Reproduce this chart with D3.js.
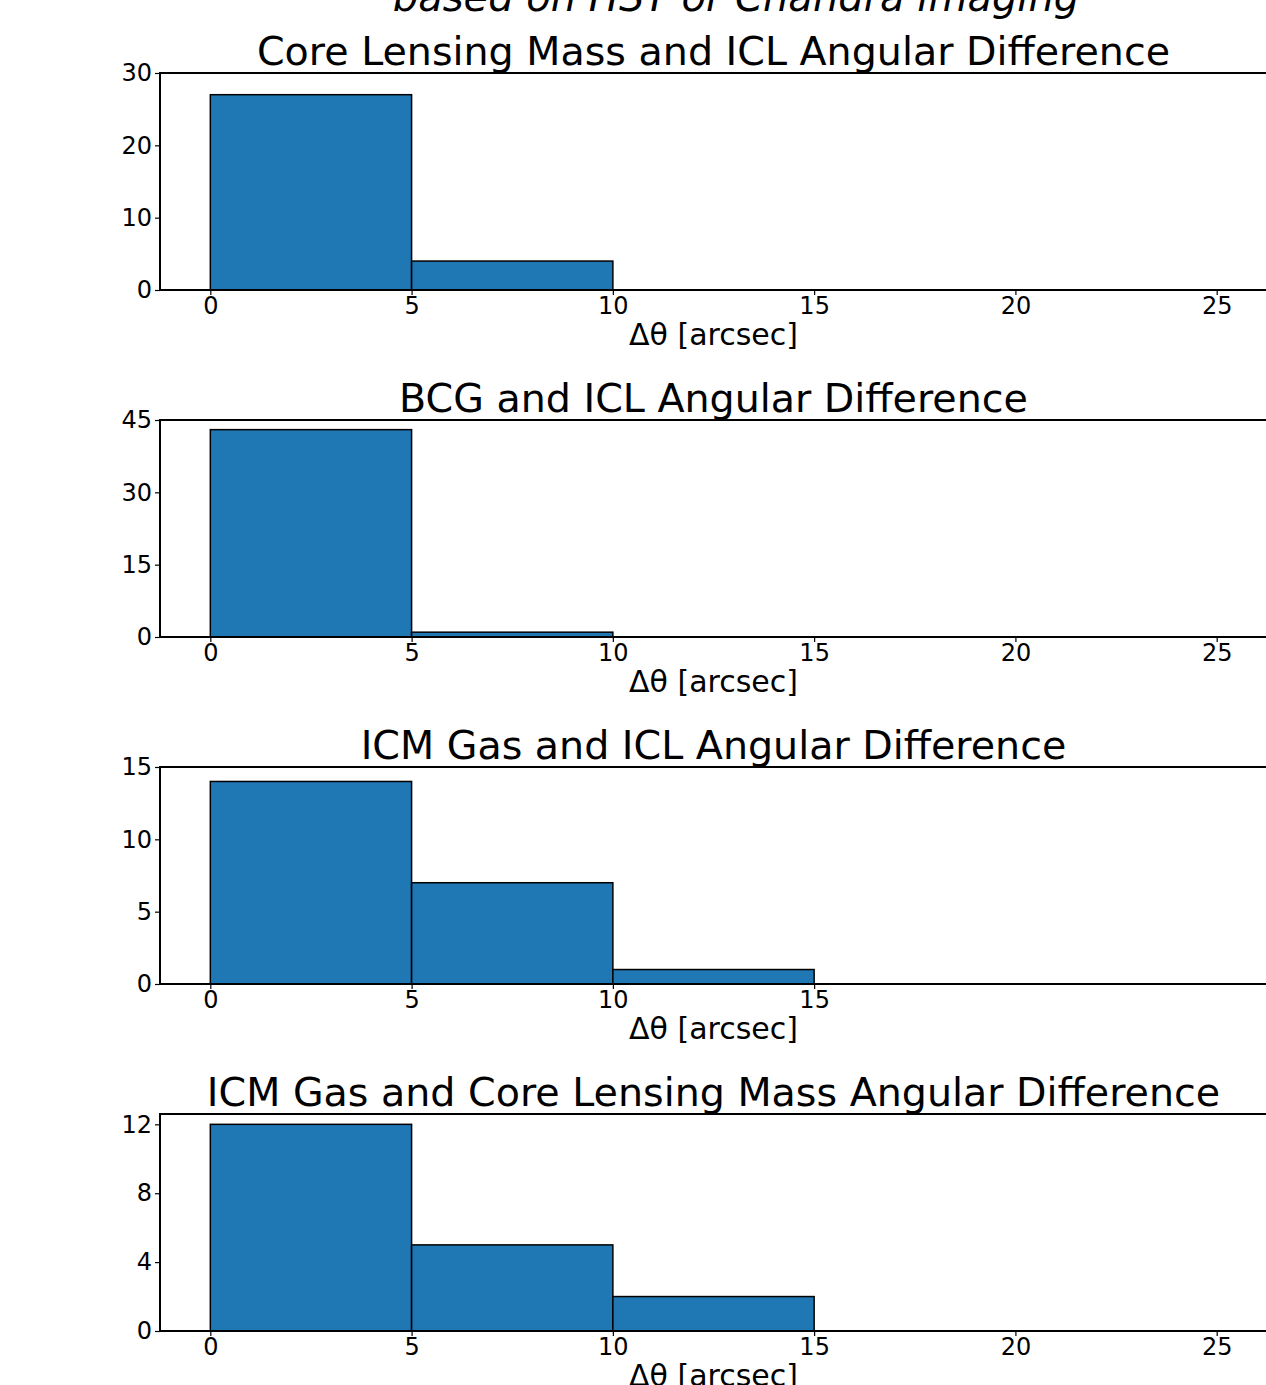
<!DOCTYPE html>
<html>
<head>
<meta charset="utf-8">
<script src="https://cdn.jsdelivr.net/npm/d3@7"></script>
<style>
  body { margin: 0; background: #fff; }
  svg { display: block; }
  text { font-family: "DejaVu Sans", sans-serif; fill: #000; }
</style>
</head>
<body>
<div id="chart"></div>
<script>
// histogram bin edges, shared by every panel
const binEdges = [0, 5, 10, 15, 20, 25];

const titles = [
  "Core Lensing Mass and ICL Angular Difference",
  "BCG and ICL Angular Difference",
  "ICM Gas and ICL Angular Difference",
  "ICM Gas and Core Lensing Mass Angular Difference"
];

const countsCoreICL = [27, 4, 0, 0, 0];
const countsBcgICL = [43, 1, 0, 0, 0];
const countsGasICL = [14, 7, 1, 0, 0];
const countsGasCore = [12, 5, 2, 0, 0];

const yMax = [30, 45, 15, 12.6];
const yTicks = [[0, 10, 20, 30], [0, 15, 30, 45], [0, 5, 10, 15], [0, 4, 8, 12]];
const xTicksFull = [0, 5, 10, 15, 20, 25];
const xTicksShort = [0, 5, 10, 15];

const suptitle = "based on HST or Chandra imaging";
const xLabel = "\u0394\u03b8 [arcsec]";

let W = 1266, H = 1385;
let margin = { left: 160, right: -1 };
let panelH = 217, panelTops = [73, 420, 767, 1114];
let color = "#1f77b4";

const allCounts = [countsCoreICL, countsBcgICL, countsGasICL, countsGasCore];

let svg = d3.select("#chart").append("svg")
    .attr("width", W)
    .attr("height", H);

// second line of the figure title, cut by the top edge in the original
svg.append("text")
    .attr("x", 736)
    .attr("y", 11)
    .attr("text-anchor", "middle")
    .style("font-size", "40px")
    .style("font-style", "italic")
    .text(suptitle);

let x = d3.scaleLinear()
    .domain([-1.25, 26.25])
    .range([margin.left, W - margin.right]);

allCounts.forEach((counts, i) => {
    let top = panelTops[i];
    let y = d3.scaleLinear()
        .domain([0, yMax[i]])
        .range([top + panelH, top]);

    let g = svg.append("g");

    let bins = counts.map((c, k) => ({ x0: binEdges[k], x1: binEdges[k + 1], n: c }))
        .filter(d => d.n > 0);

    g.selectAll(".bar")
        .data(bins)
        .enter().append("rect")
        .attr("class", "bar")
        .attr("x", d => x(d.x0))
        .attr("width", d => x(d.x1) - x(d.x0))
        .attr("y", d => y(d.n))
        .attr("height", d => y(0) - y(d.n))
        .attr("fill", color)
        .attr("stroke", "#000")
        .attr("stroke-width", 1.5);

    let xt = (i === 2) ? xTicksShort : xTicksFull;
    let xAxis = d3.axisBottom(x).tickValues(xt).tickSize(5).tickPadding(2).tickFormat(d3.format("d"));
    let yAxis = d3.axisLeft(y).tickValues(yTicks[i]).tickSize(5).tickPadding(3).tickFormat(d3.format("d"));

    let gx = g.append("g")
        .attr("transform", `translate(0,${top + panelH})`)
        .call(xAxis);
    let gy = g.append("g")
        .attr("transform", `translate(${margin.left},0)`)
        .call(yAxis);

    [gx, gy].forEach(a => {
        a.select(".domain").remove();
        a.selectAll(".tick line").attr("stroke", "#000").attr("stroke-width", 1.2);
        a.selectAll(".tick text").style("font-size", "24px").attr("fill", "#000");
    });
    gx.selectAll(".tick text").attr("dy", "0.72em");

    // frame (right side runs off the page)
    g.append("rect")
        .attr("x", margin.left)
        .attr("y", top)
        .attr("width", W - margin.right - margin.left)
        .attr("height", panelH)
        .attr("fill", "none")
        .attr("stroke", "#000")
        .attr("stroke-width", 2);

    g.append("text")
        .attr("x", (margin.left + W - margin.right) / 2)
        .attr("y", top + panelH + 55)
        .attr("text-anchor", "middle")
        .style("font-size", "30px")
        .text(xLabel);

    g.append("text")
        .attr("x", (margin.left + W - margin.right) / 2)
        .attr("y", top - 8)
        .attr("text-anchor", "middle")
        .style("font-size", "39.6px")
        .text(titles[i]);
});
</script>
</body>
</html>
